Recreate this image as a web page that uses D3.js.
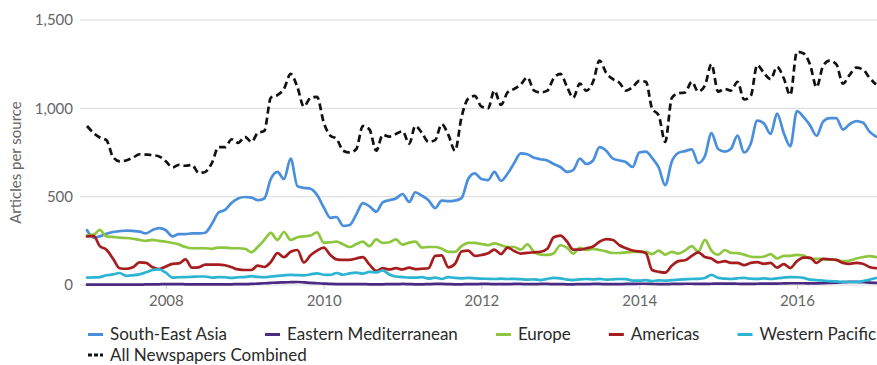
<!DOCTYPE html>
<html>
<head>
<meta charset="utf-8">
<script src="https://cdn.jsdelivr.net/npm/d3@7"></script>
<style>
html,body{margin:0;padding:0;background:#fff;}
svg{display:block;font-family:Lato,"Open Sans",sans-serif;}
</style>
</head>
<body>
<svg id="chart" width="877" height="365"></svg>
<script>
// ---- data (monthly, Jan 2007 .. Jan 2017) ----
const startYear = 2007;
const yTicks = [0, 500, 1000, 1500];
const xTickYears = [2008, 2010, 2012, 2014, 2016];
const seriesNames = ["South-East Asia", "Eastern Mediterranean", "Europe", "Americas", "Western Pacific", "All Newspapers Combined"];

const southEastAsia = [
  310,268,275,290,300,305,308,306,302,292,
  312,322,310,275,288,288,292,292,296,345,
  410,425,465,490,498,495,480,490,600,640,
  600,715,560,550,545,510,440,380,385,335,
  340,400,464,445,415,468,480,490,515,470,
  525,505,480,435,478,475,478,492,600,632,
  600,594,640,590,630,690,745,740,720,712,
  705,685,668,640,650,715,685,705,780,760,
  715,705,695,668,750,755,720,665,565,700,
  748,758,768,690,730,860,770,755,770,845,
  750,800,930,915,855,970,860,785,985,950,
  905,845,925,945,945,880,910,928,920,870,840];

const easternMediterranean = [
  2,2,2,2,2,2,2,2,2,3,
  3,4,5,5,5,4,3,3,4,4,
  3,3,4,5,5,6,8,10,12,14,
  15,16,17,15,12,10,8,6,5,5,
  5,5,5,4,4,4,5,5,6,5,
  4,4,5,6,6,5,4,4,5,5,
  6,6,5,5,5,6,6,5,5,6,
  6,5,5,4,4,5,5,6,6,5,
  5,5,6,6,7,7,6,5,5,6,
  6,7,7,6,6,7,8,8,8,7,
  6,6,7,8,8,8,9,10,10,10,
  9,9,10,12,14,16,18,18,16,14,12];

const europe = [
  280,285,312,275,272,268,266,262,255,250,
  255,250,245,238,230,215,208,208,208,205,
  212,212,208,208,205,185,215,255,295,255,
  300,255,270,275,280,298,240,242,245,230,
  215,232,245,220,258,238,242,258,228,240,
  245,212,215,215,205,188,188,220,238,238,
  232,226,236,225,215,215,200,230,187,172,
  170,180,225,210,178,210,198,204,198,190,
  181,181,185,187,187,187,175,195,172,188,
  178,195,220,190,255,195,172,198,182,180,
  172,160,158,160,175,150,165,165,170,166,
  150,148,147,145,142,135,138,150,158,164,158];

const americas = [
  275,278,220,200,150,95,92,100,128,125,
  100,90,105,120,122,145,98,100,115,115,
  115,112,100,88,85,85,110,102,130,180,
  158,188,198,128,168,195,212,170,145,142,
  142,150,158,115,80,95,88,95,88,98,
  90,92,95,165,168,100,120,190,195,165,
  170,180,200,175,212,192,178,182,185,188,
  205,270,280,245,200,200,208,218,245,260,
  255,225,208,195,190,180,85,75,70,110,
  135,140,165,185,158,150,128,135,125,125,
  113,125,130,120,125,98,118,96,135,155,
  155,125,148,145,142,125,120,125,120,102,95];

const westernPacific = [
  42,43,45,55,60,68,52,55,60,72,
  85,88,70,42,44,45,46,48,48,42,
  45,44,40,44,45,50,46,44,48,52,
  55,57,56,55,60,66,58,57,68,58,
  66,70,64,74,72,82,60,48,45,42,
  42,45,36,42,34,45,40,38,40,38,
  36,35,34,36,34,35,33,30,32,28,
  35,40,38,30,28,32,34,32,35,30,
  32,34,33,25,25,28,22,26,25,28,
  30,32,34,35,40,57,40,36,34,38,
  40,36,35,38,34,38,42,45,44,40,
  30,28,25,22,20,18,17,17,22,30,40];

const allCombined = [
  900,860,835,820,725,700,705,720,740,738,
  735,728,700,665,680,675,680,635,640,690,
  780,780,825,805,838,810,860,872,1060,1075,
  1110,1195,1120,1010,1060,1065,920,845,828,760,
  750,770,900,880,760,850,840,855,870,800,
  900,860,810,820,910,850,760,950,1055,1070,
  1010,1000,1100,1020,1090,1110,1135,1175,1100,1090,
  1100,1170,1195,1120,1060,1140,1100,1150,1270,1200,
  1165,1145,1100,1120,1155,1150,1000,960,810,1060,
  1085,1090,1150,1095,1130,1250,1095,1110,1100,1150,
  1050,1070,1245,1200,1165,1235,1170,1075,1320,1310,
  1250,1120,1240,1270,1250,1140,1190,1230,1220,1175,1135];

const seriesValues = [southEastAsia, easternMediterranean, europe, americas, westernPacific, allCombined];
const seriesColors = ["#4a8fdc", "#4b2a84", "#8dc63f", "#a51d1f", "#2db4d3", "#111111"];

// ---- layout ----
const svg = d3.select("#chart");
const W = 877, H = 365;
const plotLeft = 87, plotRight = 876, plotTop = 20, plotBottom = 285, gridLeft = 80;

const x = d3.scaleTime()
  .domain([new Date(startYear, 0, 1), new Date(startYear + 10, 0, 1)])
  .range([plotLeft, plotRight]);
const y = d3.scaleLinear().domain([0, 1500]).range([plotBottom, plotTop]);

// gridlines
svg.append("g").selectAll("line").data(yTicks).join("line")
  .attr("x1", gridLeft).attr("x2", W)
  .attr("y1", d => y(d)).attr("y2", d => y(d))
  .attr("stroke", "#d9d9d9").attr("stroke-width", 1);

// y labels
const fmt = d3.format(",");
svg.append("g").selectAll("text").data(yTicks).join("text")
  .attr("x", 73).attr("y", d => y(d)).attr("dy", "0.35em")
  .attr("text-anchor", "end").attr("fill", "#666").attr("font-size", 15)
  .text(d => fmt(d));

// x axis
const xAxis = d3.axisBottom(x)
  .tickValues(xTickYears.map(yr => new Date(yr, 0, 1)))
  .tickFormat(d3.timeFormat("%Y"))
  .tickSize(4).tickPadding(6);
const gx = svg.append("g").attr("transform", `translate(0,${plotBottom})`).call(xAxis);
gx.select(".domain").remove();
gx.selectAll(".tick line").attr("stroke", "#ccc");
gx.selectAll(".tick text").attr("fill", "#666").attr("font-size", 15).attr("font-family", "Lato, sans-serif");

// y title
svg.append("text")
  .attr("transform", `translate(21,${(plotTop + plotBottom) / 2 + 10}) rotate(-90)`)
  .attr("text-anchor", "middle").attr("fill", "#666").attr("font-size", 15)
  .text("Articles per source");

// lines
const line = d3.line()
  .x((d, i) => x(new Date(startYear, i, 1)))
  .y(d => y(d))
  .curve(d3.curveMonotoneX);

seriesValues.forEach((vals, k) => {
  const isAll = k === seriesValues.length - 1;
  svg.append("path")
    .datum(vals)
    .attr("fill", "none")
    .attr("stroke", seriesColors[k])
    .attr("stroke-width", 2.7)
    .attr("stroke-dasharray", isAll ? "7,4" : null)
    .attr("stroke-linejoin", "round")
    .attr("stroke-linecap", isAll ? "butt" : "round")
    .attr("d", line);
});

// legend (row 1: five regions laid out to fill the width; row 2: combined)
const lg = svg.append("g");
const legFont = 17, symLen = 15, symGap = 7;
const legLeft = 88, legRight = 876, row1 = 334.5, row2 = 355;
const items = seriesNames.map((name, k) => {
  const g = lg.append("g");
  const isAll = k === seriesNames.length - 1;
  g.append("line")
    .attr("x1", 0).attr("x2", symLen).attr("y1", 0).attr("y2", 0)
    .attr("stroke", seriesColors[k]).attr("stroke-width", 3)
    .attr("stroke-dasharray", isAll ? "4,2" : null);
  const t = g.append("text")
    .attr("x", symLen + symGap).attr("y", 0).attr("dy", "0.35em")
    .attr("fill", "#2a2a2a").attr("font-size", legFont)
    .text(name);
  return { g, w: symLen + symGap + t.node().getComputedTextLength() };
});
const firstRow = items.slice(0, 5);
const totalW = d3.sum(firstRow, d => d.w);
const gap = (legRight - legLeft - totalW) / (firstRow.length - 1);
let cx = legLeft;
firstRow.forEach(it => { it.g.attr("transform", `translate(${cx},${row1})`); cx += it.w + gap; });
items[5].g.attr("transform", `translate(${legLeft},${row2})`);
</script>
</body>
</html>
